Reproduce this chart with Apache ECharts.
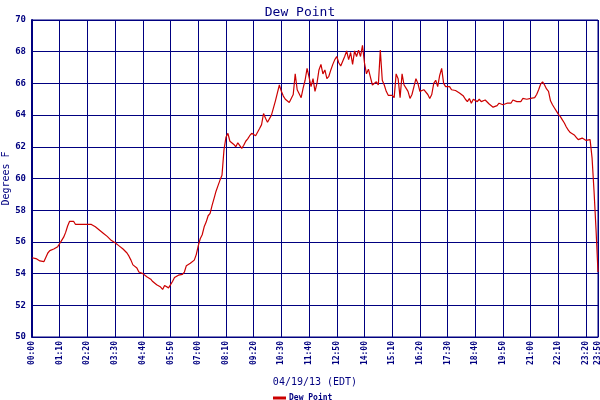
<!DOCTYPE html>
<html style="height: 100%" lang="en">

<head>
  <meta charset="utf-8">
  <script type="text/javascript" src="https://cdn.jsdelivr.net/npm/echarts@6/dist/echarts.min.js"></script>
</head>

<body style="height: 100%; margin: 0; background: #ffffff">
  <div id="container" style="width: 600px; height: 400px"></div>
  <script type="text/javascript">
    // dew point readings every 5 minutes, 00:00 .. 23:50
    var stepMinutes = 5;
    var dewPoint = [
      55.0, 55.0, 54.95, 54.9, 54.8, 54.75, 54.75, 54.85, 55.3, 55.45, 55.5, 55.55,
      55.65, 55.7, 55.9, 56.1, 56.3, 56.6, 57.0, 57.3, 57.35, 57.3, 57.1, 57.1,
      57.1, 57.1, 57.1, 57.1, 57.1, 57.1, 57.1, 57.0, 56.95, 56.85, 56.75, 56.7,
      56.55, 56.45, 56.35, 56.25, 56.1, 56.05, 55.95, 55.85, 55.75, 55.7, 55.55, 55.45,
      55.3, 55.1, 54.85, 54.55, 54.45, 54.35, 54.1, 54.0, 54.0, 53.9, 53.8, 53.75,
      53.65, 53.5, 53.45, 53.3, 53.2, 53.15, 53.0, 53.25, 53.15, 53.1, 53.2, 53.5,
      53.75, 53.85, 53.9, 53.9, 53.95, 54.1, 54.5, 54.6, 54.65, 54.65, 54.85, 55.2,
      55.75, 56.2, 56.45, 56.95, 57.25, 57.65, 57.8, 58.3, 58.75, 59.2, 59.55, 59.9,
      60.2, 61.8, 62.6, 62.85, 62.35, 62.3, 62.15, 62.0, 62.25, 62.2, 61.9, 62.1,
      62.35, 62.5, 62.7, 62.85, 62.9, 62.7, 62.6, 63.15, 63.4, 64.1, 63.8, 63.55,
      63.45, 64.0, 64.1, 64.9, 65.4, 65.9, 65.5, 65.2, 65.0, 64.9, 64.8, 64.7,
      65.3, 66.6, 65.6, 65.5, 65.1, 65.7, 66.2, 66.95, 66.4, 65.8, 66.3, 65.5,
      66.0, 66.85, 67.2, 66.6, 66.85, 66.3, 66.45, 66.85, 67.2, 67.5, 67.7, 67.3,
      67.1, 67.0, 67.7, 68.05, 67.5, 67.95, 67.2, 68.05, 67.7, 68.1, 67.7, 68.4,
      67.3, 66.6, 66.9, 66.4, 65.9, 65.8, 66.1, 65.9, 68.1, 66.2, 65.9, 65.5,
      65.25, 65.15, 65.25, 65.1, 66.6, 66.3, 65.1, 66.6, 65.9, 65.7, 65.5, 65.05,
      65.3, 65.8, 66.3, 66.0, 65.5, 65.4, 65.6, 65.6, 65.3, 65.05, 65.3, 66.0,
      66.2, 65.8, 66.5, 66.95, 66.0, 65.8, 65.9, 65.8, 65.6, 65.6, 65.55, 65.55,
      65.4, 65.3, 65.2, 65.0, 64.85, 65.05, 64.75, 65.0, 64.95, 64.85, 65.0, 64.85,
      64.9, 64.95, 64.85, 64.7, 64.65, 64.5, 64.55, 64.6, 64.75, 64.75, 64.65, 64.6,
      64.75, 64.85, 64.75, 64.95, 64.85, 64.85, 64.85, 64.85, 65.05, 65.0, 65.0, 65.0,
      65.05, 65.1, 65.1, 65.3, 65.6, 65.95, 66.1, 65.9, 65.65, 65.5, 64.9, 64.65,
      64.45, 64.25, 64.05, 63.9, 63.7, 63.5, 63.25, 63.05, 62.9, 62.8, 62.75, 62.6,
      62.45, 62.4, 62.55, 62.45, 62.4, 62.45, 62.45, 61.3, 59.2, 56.8, 54.1
    ];

    var navy = '#000080';
    var mono = 'DejaVu Sans Mono';

    function hhmm(m) {
      var h = Math.floor(m / 60);
      var mm = m % 60;
      return (h < 10 ? '0' : '') + h + ':' + (mm < 10 ? '0' : '') + mm;
    }

    var seriesData = dewPoint.map(function(v, i) {
      return [i * stepMinutes, v];
    });
    var lastMinute = (dewPoint.length - 1) * stepMinutes;

    var dom = document.getElementById("container");
    var myChart = echarts.init(dom);

    var option = {
      backgroundColor: '#ffffff',
      animation: false,
      title: {
        text: 'Dew Point',
        left: 'center',
        top: 1,
        textStyle: {
          color: navy,
          fontFamily: mono,
          fontSize: 13,
          fontWeight: 'normal'
        }
      },
      legend: {
        data: ['Dew Point'],
        left: 268,
        top: 389,
        icon: 'rect',
        itemWidth: 13,
        itemHeight: 3,
        itemGap: 3,
        textStyle: {
          color: navy,
          fontFamily: mono,
          fontSize: 8,
          fontWeight: 'bold',
          padding: [0, 0, 0, -2]
        }
      },
      grid: {
        left: 32,
        right: 2,
        top: 20,
        bottom: 63,
        containLabel: false,
        outerBoundsMode: 'none',
        show: true,
        borderColor: navy,
        borderWidth: 1,
        backgroundColor: '#ffffff'
      },
      xAxis: {
        type: 'value',
        min: 0,
        max: lastMinute,
        interval: 70,
        name: '04/19/13 (EDT)',
        nameLocation: 'middle',
        nameGap: 40,
        nameMoveOverlap: false,
        nameTextStyle: {
          color: navy,
          fontFamily: mono,
          fontSize: 10
        },
        axisLine: { show: true, lineStyle: { color: navy, width: 1 } },
        axisTick: { show: false },
        axisLabel: {
          rotate: 90,
          margin: 4,
          color: navy,
          fontFamily: mono,
          fontSize: 8,
          fontWeight: 'bold',
          showMaxLabel: true,
          formatter: function(v) {
            return hhmm(v);
          }
        },
        splitLine: { show: true, lineStyle: { color: navy, width: 1 } }
      },
      yAxis: {
        type: 'value',
        min: 50,
        max: 70,
        interval: 2,
        name: 'Degrees F',
        nameLocation: 'middle',
        nameGap: 21,
        nameMoveOverlap: false,
        nameTextStyle: {
          color: navy,
          fontFamily: mono,
          fontSize: 10
        },
        axisLine: { show: true, lineStyle: { color: navy, width: 2 } },
        axisTick: { show: false },
        axisLabel: {
          margin: 6,
          color: navy,
          fontFamily: mono,
          fontSize: 9,
          fontWeight: 'bold'
        },
        splitLine: { show: true, lineStyle: { color: navy, width: 1 } }
      },
      series: [{
        name: 'Dew Point',
        type: 'line',
        data: seriesData,
        showSymbol: false,
        color: '#cc0000',
        lineStyle: { color: '#cc0000', width: 1.2 }
      }]
    };

    myChart.setOption(option);
  </script>
</body>

</html>
